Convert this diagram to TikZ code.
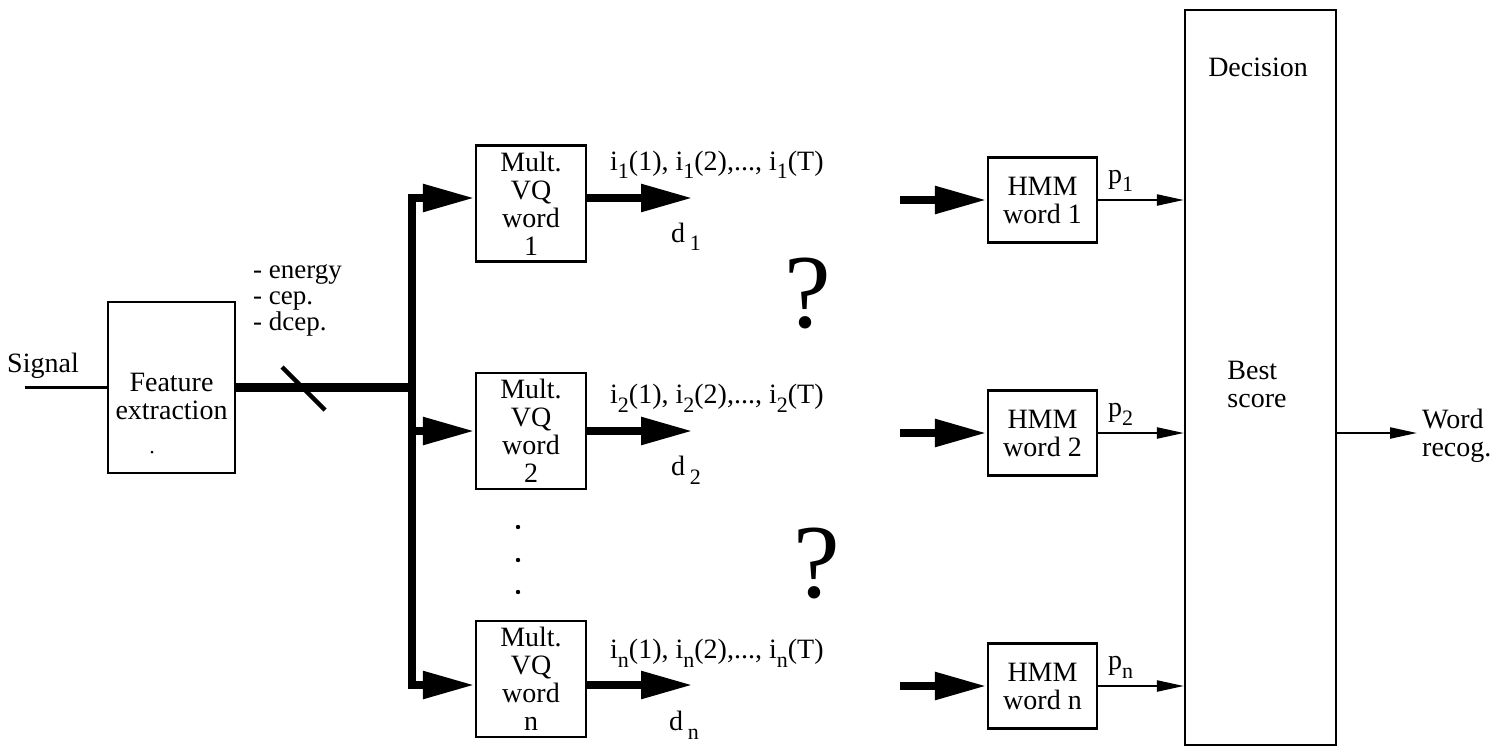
\documentclass[tikz,border=0pt]{standalone}
\usepackage{fontspec}
\setmainfont{Liberation Serif}
\usetikzlibrary{arrows.meta}
\newcommand{\sbs}[1]{\raisebox{-0.7ex}{\fontsize{22}{22}\selectfont #1}}
\begin{document}
\begin{tikzpicture}[x=1pt,y=-1pt,
  every node/.style={font=\fontsize{28}{28}\selectfont, inner sep=0pt},
  box/.style={draw, line width=2.2pt, align=center},
  vq/.style={box, minimum width=110pt, minimum height=116pt},
  hmm/.style={box, minimum width=109pt, minimum height=85pt},
  bigarrow/.style={line width=8.5pt, -{Triangle[length=52pt,width=26pt]}},
  thinarrow/.style={line width=2.2pt, -{Triangle[length=27pt,width=11pt]}},
  thinline/.style={line width=2.2pt},
  lbl/.style={anchor=base west},
  feat/.style={anchor=base west, font=\fontsize{27}{27}\selectfont},
  qmark/.style={anchor=base, font=\fontsize{105}{105}\selectfont},
]
\useasboundingbox (0,0) rectangle (1504,752);

% input and feature extraction
\node[box, minimum width=127pt, minimum height=171pt] (fe) at (171.5,387.5) {};
\node[align=center] (fet) at (171.5,396) {Feature\\extraction};
\fill (152,452) circle (1.5pt);
\node (sig) at (43,366) {Signal};
\coordinate (sigin) at (25,387.5);
\draw[thinline] (sigin) -- (fe.west);

\node[feat] (en) at (253,278) {- energy};
\node[feat] (ce) at (253,304) {- cep.};
\node[feat] (dc) at (253,330) {- dcep.};

% bus
\coordinate (bj) at (412,387.5);
\coordinate (b1) at (412,198);
\coordinate (b2) at (412,431);
\coordinate (bn) at (412,685);
\draw[line width=8.5pt] (fe.east) -- (bj);
\coordinate (sl1) at (282,367);
\coordinate (sl2) at (325,410);
\draw[line width=4.5pt] (sl1) -- (sl2);
\draw[line width=8.5pt, line cap=rect] (b1) -- (bn);

% VQ boxes
\node[vq] (vq1) at (531,203.5) {Mult.\\VQ\\word\\1};
\node[vq] (vq2) at (531,431) {Mult.\\VQ\\word\\2};
\node[vq] (vqn) at (531,679) {Mult.\\VQ\\word\\n};
\draw[bigarrow] (b1) -- (b1 -| vq1.west);
\draw[bigarrow] (b2) -- (b2 -| vq2.west);
\draw[bigarrow] (bn) -- (bn -| vqn.west);

\fill (518,527) circle (2.2pt);
\fill (518,560) circle (2.2pt);
\fill (518,592) circle (2.2pt);

% VQ outputs
\coordinate (e1) at (693,198);
\coordinate (e2) at (693,431);
\coordinate (en2) at (693,685);
\draw[bigarrow] (b1 -| vq1.east) -- (e1);
\draw[bigarrow] (b2 -| vq2.east) -- (e2);
\draw[bigarrow] (bn -| vqn.east) -- (en2);

\node[lbl] (i1) at (610,170) {i\sbs{1}(1), i\sbs{1}(2),..., i\sbs{1}(T)};
\node[lbl] (i2) at (610,403) {i\sbs{2}(1), i\sbs{2}(2),..., i\sbs{2}(T)};
\node[lbl] (in) at (610,658) {i\sbs{n}(1), i\sbs{n}(2),..., i\sbs{n}(T)};
\node[lbl] (d1) at (671,242) {d\,\sbs{1}};
\node[lbl] (d2) at (671,475) {d\,\sbs{2}};
\node[lbl] (dn) at (669,730) {d\,\sbs{n}};

\node[qmark] (q1) at (808,327) {?};
\node[qmark] (q2) at (817,597) {?};

% HMM boxes
\node[hmm] (h1) at (1042.5,200) {HMM\\word 1};
\node[hmm] (h2) at (1042.5,433) {HMM\\word 2};
\node[hmm] (hn) at (1042.5,686) {HMM\\word n};
\coordinate (s1) at (900,200);
\coordinate (s2) at (900,433);
\coordinate (sn) at (900,686);
\draw[bigarrow] (s1) -- (h1.west);
\draw[bigarrow] (s2) -- (h2.west);
\draw[bigarrow] (sn) -- (hn.west);

% decision
\node[box, minimum width=151pt, minimum height=735pt] (dec) at (1260.5,377.5) {};
\node (dect) at (1258,67) {Decision};
\node[align=left] (best) at (1257,384) {Best\\score};
\draw[thinarrow] (h1.east) -- (h1.east -| dec.west);
\draw[thinarrow] (h2.east) -- (h2.east -| dec.west);
\draw[thinarrow] (hn.east) -- (hn.east -| dec.west);
\node[lbl] (p1) at (1108,183) {p\sbs{1}};
\node[lbl] (p2) at (1108,416) {p\sbs{2}};
\node[lbl] (pn) at (1108,669) {p\sbs{n}};

\coordinate (out) at (1417,433);
\draw[thinarrow] (dec.east |- out) -- (out);
\node[align=left, anchor=west] (wr) at (1422,436) {Word\\recog.};
\end{tikzpicture}
\end{document}
